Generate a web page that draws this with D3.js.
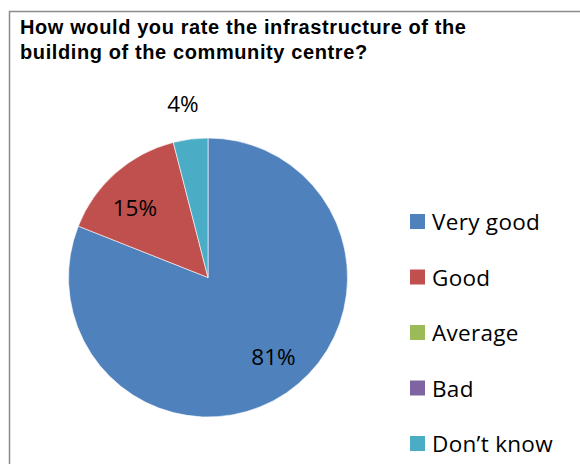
<!DOCTYPE html>
<html>
<head>
<meta charset="utf-8">
<script src="https://cdn.jsdelivr.net/npm/d3@7"></script>
<style>
  html, body { margin: 0; padding: 0; background: #fff; }
  svg { display: block; }
</style>
</head>
<body>
<svg id="chart" width="580" height="464"></svg>
<script>
// Survey answers and their shares (%)
const categories = ["Very good", "Good", "Average", "Bad", "Don’t know"];
const shares = [81, 15, 0, 0, 4];
const colors = ["#4F81BD", "#C0504D", "#9BBB59", "#8064A2", "#4BACC6"];
const titleLines = ["How would you rate the infrastructure of the", "building of the community centre?"];

const svg = d3.select("#chart");
const W = 580, H = 464;

// Chart frame (runs off the right and bottom edges)
svg.append("rect")
  .attr("x", 9.5).attr("y", 11.5)
  .attr("width", W + 20).attr("height", H + 20)
  .attr("fill", "#fff").attr("stroke", "#8c8c8c").attr("stroke-width", 1.5);

// Title, spaced so the first line spans the full title width
const title = svg.append("text")
  .attr("font-family", "Liberation Sans, Arial, sans-serif")
  .attr("font-weight", "bold").attr("font-size", 20).attr("fill", "#000");
const spans = titleLines.map((line, i) =>
  title.append("tspan").attr("x", 20).attr("y", 34 + i * 25).text(line));
const firstLen = spans[0].node().getComputedTextLength();
const spacing = (446 - firstLen) / (titleLines[0].length - 1);
title.attr("letter-spacing", spacing);

// Pie
const cx = 208, cy = 277.5, R = 139.5;
const data = categories.map((c, i) => ({ name: c, value: shares[i], color: colors[i] }));
const pie = d3.pie().value(d => d.value).sort(null);
const arcs = pie(data);
const arc = d3.arc().innerRadius(0).outerRadius(R);

const g = svg.append("g").attr("transform", `translate(${cx},${cy})`);
g.selectAll("path")
  .data(arcs.filter(a => a.data.value > 0))
  .join("path")
  .attr("d", arc)
  .attr("fill", d => d.data.color)
  .attr("stroke", "#fff").attr("stroke-width", 0.6);

// Percentage labels: polar placement (distance from centre, turn from mid-angle in degrees)
const labelPlace = {
  "Very good": [103, -5.3],
  "Good": [101, -5],
  "Don’t know": [176, -1]
};
const labelFont = "Open Sans, Carlito, Calibri, sans-serif";
g.selectAll("text.pct")
  .data(arcs.filter(a => a.data.value > 0))
  .join("text")
  .attr("class", "pct")
  .attr("font-family", labelFont).attr("font-size", 22.5).attr("fill", "#000")
  .attr("text-anchor", "middle").attr("dominant-baseline", "central")
  .attr("transform", d => {
    const [r, turn] = labelPlace[d.data.name];
    const a = (d.startAngle + d.endAngle) / 2 + turn * Math.PI / 180;
    return `translate(${r * Math.sin(a)},${-r * Math.cos(a)})`;
  })
  .text(d => d.data.value + "%");

// Legend
const legendY = d3.scalePoint().domain(categories).range([221.5, 443.5]);
const legend = svg.append("g");
const item = legend.selectAll("g").data(data).join("g")
  .attr("transform", d => `translate(410,${legendY(d.name)})`);
item.append("rect")
  .attr("x", 0).attr("y", -7.5).attr("width", 15).attr("height", 15)
  .attr("fill", d => d.color);
item.append("text")
  .attr("x", 22).attr("y", 0)
  .attr("dominant-baseline", "central")
  .attr("font-family", labelFont).attr("font-size", 22.5)
  .attr("letter-spacing", 0.3).attr("fill", "#000")
  .text(d => d.name);
</script>
</body>
</html>
